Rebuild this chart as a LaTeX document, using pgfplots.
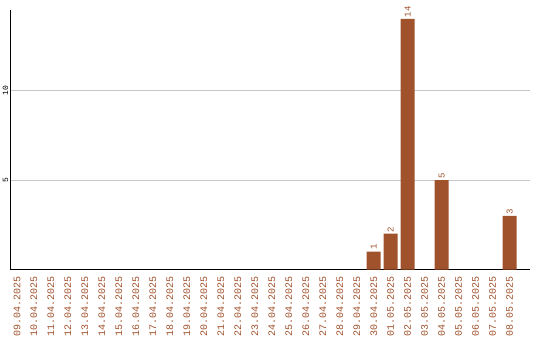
\documentclass[border=0pt]{standalone}
\usepackage{pgfplots}
\pgfplotsset{compat=1.18}
\usepackage{fontspec}
\setmainfont{Liberation Mono}
\definecolor{barc}{HTML}{A0522D}
\definecolor{gridc}{HTML}{C8C8C8}
\begin{document}
\begin{tikzpicture}
\path[use as bounding box] (-10.5bp,-70.5bp) rectangle (529.5bp,269.5bp);
\begin{axis}[
  at={(0,0)}, anchor=south west,
  scale only axis, width=519.5bp, height=259.5bp,
  xmin=-0.38, xmax=30.2, ymin=0, ymax=14.5,
  axis lines*=left, axis line style={-, black, line width=0.9pt},
  xtick={0,...,29},
  xticklabels={09.04.2025,10.04.2025,11.04.2025,12.04.2025,13.04.2025,14.04.2025,15.04.2025,16.04.2025,17.04.2025,18.04.2025,19.04.2025,20.04.2025,21.04.2025,22.04.2025,23.04.2025,24.04.2025,25.04.2025,26.04.2025,27.04.2025,28.04.2025,29.04.2025,30.04.2025,01.05.2025,02.05.2025,03.05.2025,04.05.2025,05.05.2025,06.05.2025,07.05.2025,08.05.2025},
  xticklabel style={yshift=-7bp, rotate=90, anchor=east, font=\fontsize{10bp}{11bp}\selectfont, text=barc, inner sep=0pt},
  ytick={5,10},
  yticklabel style={xshift=-2bp, rotate=90, anchor=south, font=\fontsize{8bp}{9bp}\selectfont, inner sep=0pt},
  major tick length=0pt,
  ymajorgrids, grid style={gridc, line width=0.6pt},
  /pgf/number format/assume math mode=true,
  ybar, bar width=14bp, bar shift=0pt,
  nodes near coords,
  nodes near coords style={rotate=90, anchor=west, font=\fontsize{9bp}{10bp}\selectfont, text=barc, inner sep=1.5pt},
]
\addplot[fill=barc, draw=none] coordinates {(21,1) (22,2) (23,14) (25,5) (29,3)};
\end{axis}
\end{tikzpicture}
\end{document}
